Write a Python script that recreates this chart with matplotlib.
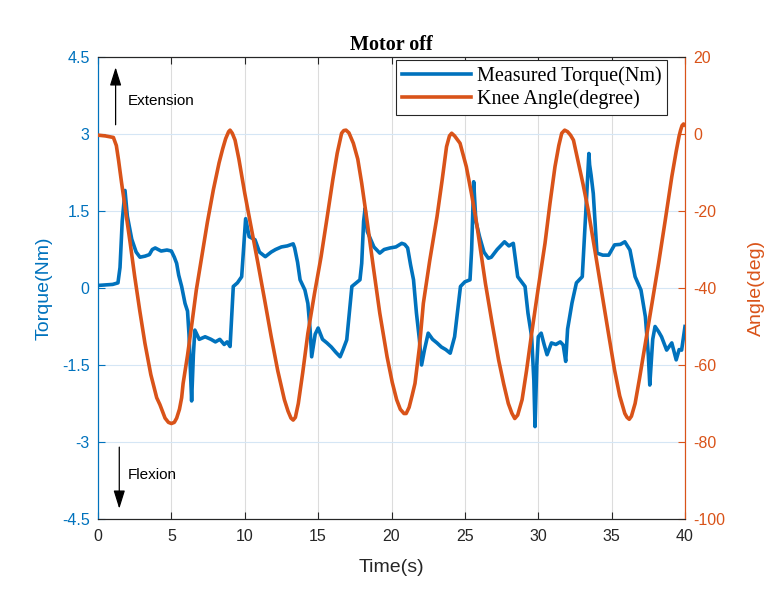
import matplotlib
matplotlib.use("Agg")
import matplotlib.pyplot as plt
import numpy as np

plt.rcParams["axes.unicode_minus"] = False

# Measured torque (Nm)
t_torque = [0.0, 0.5, 1.0, 1.36, 1.5, 1.65, 1.84, 2.0, 2.3, 2.6, 2.86, 3.2, 3.5, 3.7, 3.9, 4.3, 4.7, 5.0,
            5.2, 5.36, 5.5, 5.7, 5.93, 6.1, 6.2, 6.38, 6.5, 6.6, 6.9, 7.3, 7.7, 8.0, 8.3, 8.6, 8.8, 9.0,
            9.22, 9.5, 9.79, 9.95, 10.06, 10.3, 10.7, 11.0, 11.4, 11.8, 12.1, 12.5, 12.9, 13.3,
            13.4, 13.6, 13.77, 14.1, 14.3, 14.45, 14.56, 14.8, 15.0, 15.3, 15.6, 15.9, 16.2, 16.5, 16.7, 16.95,
            17.3, 17.6, 17.85, 17.97, 18.1, 18.2, 18.35, 18.5, 18.8, 19.2, 19.5, 19.9, 20.3, 20.7, 20.9, 21.1,
            21.3, 21.5, 21.7, 21.9, 22.05, 22.25, 22.5, 22.8, 23.1, 23.4, 23.7, 24.0, 24.3,
            24.7, 25.0, 25.35, 25.46, 25.6, 25.75, 26.0, 26.3, 26.6, 26.8, 27.2, 27.7, 28.0, 28.3,
            28.6, 29.1, 29.3, 29.55, 29.7, 29.78, 29.9, 30.0, 30.2, 30.4, 30.6, 30.9, 31.2, 31.5, 31.7, 31.87,
            32.0, 32.3, 32.6, 33.0, 33.1, 33.3, 33.45, 33.5, 33.6, 33.75, 34.0, 34.4, 34.8, 35.2, 35.6, 35.9,
            36.25, 36.6, 37.0, 37.3, 37.5, 37.6, 37.8, 37.96, 38.2, 38.4, 38.75, 39.1, 39.4, 39.6, 39.77, 40.0]
torque = [0.05, 0.06, 0.07, 0.1, 0.4, 1.3, 1.9, 1.4, 0.95, 0.7, 0.6, 0.62, 0.65, 0.75, 0.78, 0.72, 0.74, 0.72,
          0.6, 0.48, 0.25, 0.03, -0.3, -0.45, -0.9, -2.2, -1.3, -0.82, -1.0, -0.95, -1.0, -1.05, -1.0, -1.1, -1.05, -1.14,
          0.03, 0.1, 0.22, 0.9, 1.35, 1.0, 0.94, 0.7, 0.61, 0.7, 0.75, 0.8, 0.82, 0.86,
          0.78, 0.5, 0.16, -0.04, -0.3, -0.8, -1.34, -0.9, -0.78, -1.0, -1.07, -1.15, -1.25, -1.34, -1.2, -1.01,
          0.03, 0.1, 0.16, 0.48, 1.3, 1.55, 1.1, 1.0, 0.8, 0.68, 0.75, 0.78, 0.8, 0.87, 0.85, 0.78,
          0.45, 0.16, -0.49, -1.0, -1.5, -1.2, -0.88, -1.0, -1.07, -1.15, -1.2, -1.27, -0.95,
          0.03, 0.12, 0.16, 0.74, 2.07, 1.3, 1.0, 0.7, 0.58, 0.6, 0.75, 0.9, 0.82, 0.87,
          0.22, 0.03, -0.49, -0.95, -1.8, -2.7, -1.5, -0.95, -0.88, -1.1, -1.3, -1.07, -1.1, -1.05, -1.11, -1.43,
          -0.8, -0.29, 0.1, 0.22, 0.74, 1.8, 2.62, 2.4, 2.2, 1.84, 0.68, 0.64, 0.64, 0.84, 0.85, 0.9,
          0.74, 0.22, -0.04, -0.56, -1.3, -1.89, -1.0, -0.75, -0.85, -0.95, -1.21, -1.07, -1.40, -1.2, -1.21, -0.75]

# Knee angle (degree)
t_angle = [0.0, 0.5, 1.05, 1.25, 1.4, 1.6, 1.84, 2.2, 2.5, 2.85, 3.2, 3.6, 4.0, 4.22, 4.57, 4.8, 5.0, 5.2, 5.36,
           5.55, 5.7, 5.8, 6.1, 6.4, 6.7, 7.07, 7.45, 7.86, 8.25, 8.5, 8.7, 8.9, 9.0, 9.15, 9.34, 9.6,
           10.0, 10.45, 10.9, 11.35, 11.8, 12.25, 12.7, 12.95, 13.15, 13.3, 13.45, 13.65, 13.95, 14.3, 14.75,
           15.2, 15.6, 16.0, 16.3, 16.6, 16.75, 16.9, 17.1, 17.4, 17.7, 17.97, 18.35, 18.76, 19.2, 19.7,
           20.05, 20.35, 20.6, 20.85, 21.0, 21.2, 21.4, 21.6, 21.9, 22.17, 22.6, 23.1, 23.45, 23.75, 23.95,
           24.1, 24.3, 24.67, 25.1, 25.45, 25.8, 26.1, 26.4, 26.85, 27.3, 27.65, 27.96, 28.2, 28.4, 28.6,
           28.9, 29.2, 29.55, 30.0, 30.46, 30.8, 31.14, 31.4, 31.6, 31.8, 32.0, 32.2, 32.4, 32.7, 33.05,
           33.4, 33.85, 34.3, 34.75, 35.2, 35.55, 35.9, 36.05, 36.2, 36.35, 36.6, 36.9, 37.3, 37.75, 38.2,
           38.65, 39.1, 39.4, 39.6, 39.7, 39.8, 39.9, 40.0]
angle = [-0.3, -0.5, -0.9, -3.0, -6.8, -12.5, -18.9, -28.5, -37.0, -46.0, -54.4, -62.5, -68.5, -70.3, -73.8,
         -74.9, -75.2, -74.9, -73.8, -71.5, -68.5, -64.8, -57.5, -49.2, -40.5, -31.9, -23.0, -14.5, -7.5, -3.8,
         -1.2, 0.6, 1.0, 0.2, -1.6, -6.5,
         -15.4, -24.5, -33.6, -43.0, -52.6, -61.5, -69.0, -72.0, -73.8, -74.3, -73.6, -70.0, -62.0, -51.8, -41.5,
         -31.9, -22.0, -11.9, -5.0, 0.2, 0.9, 1.0, 0.3, -2.4, -6.5, -12.8, -23.0, -34.5, -46.5, -57.9,
         -64.5, -69.0, -71.5, -72.6, -72.6, -71.0, -68.0, -64.8, -55.5, -44.0, -33.0, -21.5, -12.0, -3.3, -0.5,
         0.2, -0.5, -2.4, -8.5, -15.5, -23.2, -31.0, -38.8, -49.0, -58.7, -65.0, -70.0, -72.5, -73.9, -73.0,
         -69.0, -61.5, -51.8, -40.0, -28.4, -18.0, -8.5, -3.0, 0.2, 1.0, 0.6, -0.3, -1.6, -6.8, -13.0,
         -19.7, -30.0, -40.5, -51.0, -61.3, -68.0, -72.6, -73.6, -74.1, -73.3, -70.0, -63.5, -54.4, -44.0, -33.6,
         -22.5, -11.1, -4.5, -0.5, 1.0, 2.2, 2.6, 2.3]

x_ticks = [0, 5, 10, 15, 20, 25, 30, 35, 40]
left_ticks = [-4.5, -3, -1.5, 0, 1.5, 3, 4.5]
left_labels = ["-4.5", "-3", "-1.5", "0", "1.5", "3", "4.5"]
right_ticks = [-100, -80, -60, -40, -20, 0, 20]

BLUE = "#0072BD"
ORANGE = "#D95319"
SANS = ["Liberation Sans", "DejaVu Sans"]
SERIF = ["Liberation Serif", "DejaVu Serif"]

fig = plt.figure(figsize=(7.83, 6.0), dpi=100)
ax = fig.add_axes([98 / 783, 81 / 600, 587 / 783, 462 / 600])
ax2 = ax.twinx()

ax.set_xlim(0, 40)
ax.set_ylim(-4.5, 4.5)
ax2.set_ylim(-100, 20)

ax.set_xticks(x_ticks)
ax.set_yticks(left_ticks)
ax.set_yticklabels(left_labels)
ax2.set_yticks(right_ticks)

ax.grid(True, axis="x", color="#dcdcdc", linewidth=0.8)
ax.grid(True, axis="y", color="#d5e6f5", linewidth=0.8)
ax.set_axisbelow(True)

l1, = ax.plot(t_torque, torque, color=BLUE, linewidth=2.6, label="Measured Torque(Nm)", zorder=3)
l2, = ax2.plot(t_angle, angle, color=ORANGE, linewidth=2.6, label="Knee Angle(degree)", zorder=3,
               solid_joinstyle="round")

for a in (ax, ax2):
    a.spines["top"].set_color("#262626")
    a.spines["bottom"].set_color("#262626")
    a.spines["left"].set_color(BLUE)
    a.spines["right"].set_color(ORANGE)
    for s in a.spines.values():
        s.set_linewidth(0.8)

ax.tick_params(axis="x", direction="in", top=True, colors="#262626", labelsize=11.5, length=5, pad=7)
ax.tick_params(axis="y", direction="in", colors=BLUE, labelsize=11.5, length=5, pad=6)
ax2.tick_params(axis="y", direction="in", colors=ORANGE, labelsize=11.5, length=5, pad=6)
for lab in ax.get_xticklabels() + ax.get_yticklabels() + ax2.get_yticklabels():
    lab.set_family(SANS)

ax.set_xlabel("Time(s)", fontsize=14, family=SANS, color="#262626", labelpad=11)
ax.set_ylabel("Torque(Nm)", fontsize=14, family=SANS, color=BLUE, labelpad=7)
ax2.set_ylabel("Angle(deg)", fontsize=14, family=SANS, color=ORANGE, labelpad=16)
ax.set_title("Motor off", fontsize=14.5, fontweight="bold", family=SERIF, pad=5)

leg = ax2.legend(handles=[l1, l2], loc="upper right", prop={"family": SERIF, "size": 14.5},
                 frameon=True, fancybox=False, edgecolor="#262626", framealpha=1,
                 handlelength=3.4, borderpad=0.3, labelspacing=0.15, handletextpad=0.3,
                 bbox_to_anchor=(0.97, 0.993), borderaxespad=0.0)
leg.get_frame().set_linewidth(0.8)

# Direction annotations
ax.annotate("", xy=(1.2, 4.3), xytext=(1.2, 3.18),
            arrowprops=dict(arrowstyle="-|>,head_width=0.25,head_length=0.8", color="black", lw=0.9,
                            mutation_scale=14, shrinkA=0, shrinkB=0))
ax.text(2.05, 3.65, "Extension", fontsize=11, family=SANS, va="center", ha="left")
ax.annotate("", xy=(1.45, -4.3), xytext=(1.45, -3.1),
            arrowprops=dict(arrowstyle="-|>,head_width=0.25,head_length=0.8", color="black", lw=0.9,
                            mutation_scale=14, shrinkA=0, shrinkB=0))
ax.text(2.05, -3.65, "Flexion", fontsize=11, family=SANS, va="center", ha="left")

fig.savefig("out.png", dpi=100)
